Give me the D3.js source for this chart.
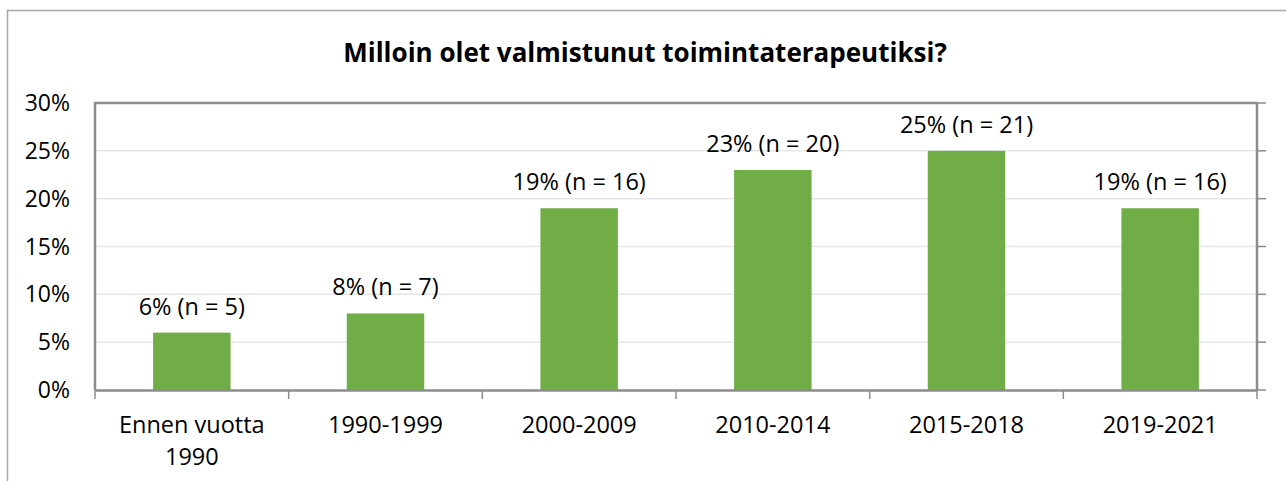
<!DOCTYPE html>
<html>
<head>
<meta charset="utf-8">
<script src="https://cdn.jsdelivr.net/npm/d3@7"></script>
<style>
  body { margin: 0; background: #fff; }
  svg { display: block; font-family: "Open Sans", sans-serif; }
</style>
</head>
<body>
<svg width="1286" height="481"></svg>
<script>
// data
var categories = [["Ennen vuotta", "1990"], ["1990-1999"], ["2000-2009"], ["2010-2014"], ["2015-2018"], ["2019-2021"]];
var shares = [6, 8, 19, 23, 25, 19];
var counts = [5, 7, 16, 20, 21, 16];
var yTicks = [0, 5, 10, 15, 20, 25, 30];

var svg = d3.select("svg"),
    margin = {top: 103, right: 29, bottom: 91, left: 95},
    width = 1286 - margin.left - margin.right,
    height = 481 - margin.top - margin.bottom;

// chart frame (outer border, right and bottom cut off)
svg.append("rect")
    .attr("x", 7.5).attr("y", 10.5)
    .attr("width", 1300).attr("height", 500)
    .attr("fill", "none").attr("stroke", "#a6a6a6").attr("stroke-width", 1.5);

svg.append("text")
    .attr("x", 645).attr("y", 62)
    .attr("text-anchor", "middle")
    .attr("font-size", 26).attr("font-weight", "bold")
    .attr("fill", "#000")
    .text("Milloin olet valmistunut toimintaterapeutiksi?");

var g = svg.append("g").attr("transform", "translate(" + margin.left + "," + margin.top + ")");

var x = d3.scaleBand().domain(d3.range(categories.length)).range([0, width]).paddingInner(0.6).paddingOuter(0.3),
    xb = d3.scaleBand().domain(d3.range(categories.length)).range([0, width]),
    y = d3.scaleLinear().domain([0, 30]).range([height, 0]);

// gridlines
g.selectAll(".grid").data(yTicks.slice(1, -1)).enter().append("line")
    .attr("x1", 0).attr("x2", width)
    .attr("y1", function(d) { return y(d); }).attr("y2", function(d) { return y(d); })
    .attr("stroke", "#e6e6e6").attr("stroke-width", 1.5);

// bars
g.selectAll(".bar").data(shares).enter().append("rect")
    .attr("x", function(d, i) { return x(i); })
    .attr("width", x.bandwidth())
    .attr("y", function(d) { return y(d); })
    .attr("height", function(d) { return height - y(d); })
    .attr("fill", "#70ad47");

// value labels
g.selectAll(".lbl").data(shares).enter().append("text")
    .attr("x", function(d, i) { return x(i) + x.bandwidth() / 2; })
    .attr("y", function(d) { return y(d) - 18; })
    .attr("text-anchor", "middle")
    .attr("font-size", 23.5).attr("fill", "#000")
    .text(function(d, i) { return d + "% (n = " + counts[i] + ")"; });

// y axis labels
g.selectAll(".ylab").data(yTicks).enter().append("text")
    .attr("x", -25)
    .attr("y", function(d) { return y(d) + 8; })
    .attr("text-anchor", "end")
    .attr("font-size", 23).attr("fill", "#000")
    .text(function(d) { return d + "%"; });

// plot border: top, left, right
g.append("path")
    .attr("d", "M0," + height + "V0H" + width + "V" + height)
    .attr("fill", "none").attr("stroke", "#8c8c8c").attr("stroke-width", 2.5);

// right axis ticks outward
g.selectAll(".rtick").data(yTicks).enter().append("line")
    .attr("x1", width).attr("x2", width + 9)
    .attr("y1", function(d) { return y(d); }).attr("y2", function(d) { return y(d); })
    .attr("stroke", "#8c8c8c").attr("stroke-width", 1.5);

// x axis
var xAxis = g.append("g")
    .attr("transform", "translate(0," + height + ")")
    .call(d3.axisBottom(xb).tickSize(0).tickFormat(""));
xAxis.select(".domain").attr("stroke", "#8c8c8c").attr("stroke-width", 2.5);

g.selectAll(".xtick").data(d3.range(categories.length + 1)).enter().append("line")
    .attr("x1", function(d) { return d * xb.step(); }).attr("x2", function(d) { return d * xb.step(); })
    .attr("y1", height).attr("y2", height + 9)
    .attr("stroke", "#8c8c8c").attr("stroke-width", 1.5);

// category labels
var cl = g.selectAll(".xlab").data(categories).enter().append("text")
    .attr("text-anchor", "middle")
    .attr("font-size", 23.5).attr("fill", "#000")
    .attr("transform", function(d, i) { return "translate(" + (xb(i) + xb.bandwidth() / 2) + "," + (height + 43) + ")"; });
cl.selectAll("tspan").data(function(d) { return d; }).enter().append("tspan")
    .attr("x", 0).attr("dy", function(d, i) { return i ? 32 : 0; })
    .text(function(d) { return d; });
</script>
</body>
</html>
